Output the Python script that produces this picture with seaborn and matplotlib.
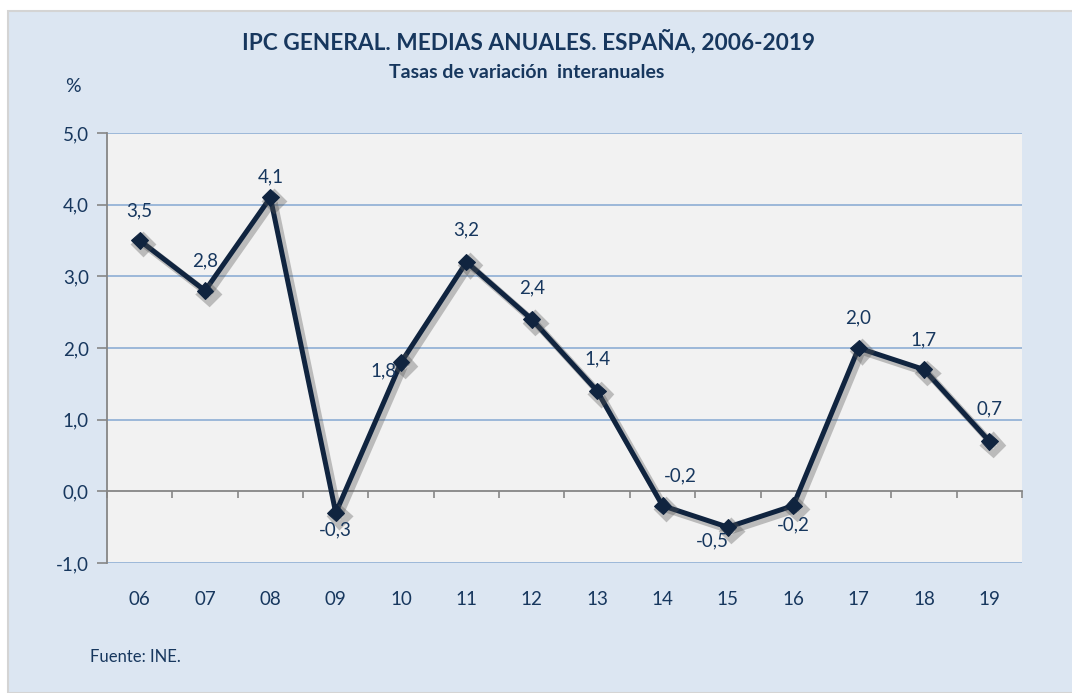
import numpy as np
import pandas as pd
import matplotlib
matplotlib.use("Agg")
import matplotlib.pyplot as plt
import matplotlib.patheffects as pe
from matplotlib.patches import Rectangle
import seaborn as sns

# ---- data ----
years = ["06", "07", "08", "09", "10", "11", "12", "13", "14", "15", "16", "17", "18", "19"]
ipc = [3.5, 2.8, 4.1, -0.3, 1.8, 3.2, 2.4, 1.4, -0.2, -0.5, -0.2, 2.0, 1.7, 0.7]
yticks = [-1.0, 0.0, 1.0, 2.0, 3.0, 4.0, 5.0]
title = "IPC GENERAL. MEDIAS ANUALES. ESPAÑA, 2006-2019"
subtitle = "Tasas de variación  interanuales"
source = "Fuente: INE."

# label offsets in pixels (dx, dy) for the data labels
label_offsets = [(0, 30), (0, 30), (0, 21), (0, -17), (-18, -9), (0, 32), (0, 31),
                 (0, 32), (18, 30), (-16, -14), (0, -19), (0, 30), (0, 30), (0, 32)]

NAVY = "#17375E"
LINE = "#10243F"
BG = "#DCE6F2"
PLOT_BG = "#F2F2F2"
GRID = "#95B3D7"
AXGRAY = "#868686"

sns.set_theme(style="white")
plt.rcParams["font.family"] = ["Lato", "DejaVu Sans"]

fig = plt.figure(figsize=(10.72, 6.93), dpi=100, facecolor="white")
W, H = 1072, 693
fig.patches.append(Rectangle((8 / W, 0), 1 - 8 / W + 0.01, (H - 11) / H,
                             transform=fig.transFigure, facecolor=BG,
                             edgecolor="#D4D4D4", linewidth=1.5, zorder=-10))

ax = fig.add_axes([107 / W, 1 - 563 / H, (1022 - 107) / W, (563 - 133) / H])
ax.set_zorder(1)
ax.set_facecolor(PLOT_BG)

df = pd.DataFrame({"pos": np.arange(len(years)), "val": ipc})
sns.lineplot(data=df, x="pos", y="val", ax=ax, color=LINE, linewidth=3.6,
             marker="D", markersize=8.5, markeredgecolor=LINE, zorder=5)
ax.lines[0].set_path_effects([
    pe.SimpleLineShadow(offset=(2.5, -2.5), shadow_color="#555555", alpha=0.35,
                        linewidth=5),
    pe.Normal()])

ax.set_xlim(-0.5, len(years) - 0.5)
ax.set_ylim(-1.0, 5.0)
ax.set_xlabel("")
ax.set_ylabel("")

# gridlines
for v in yticks:
    if v != 0:
        ax.axhline(v, color=GRID, linewidth=1.3, zorder=1)

# y axis
ax.set_yticks(yticks)
ax.set_yticklabels([f"{v:.1f}".replace(".", ",") for v in yticks], color=NAVY, fontsize=13.5)
ax.tick_params(axis="y", length=7, width=1.2, color=AXGRAY, pad=6, left=True)
for s in ["top", "right"]:
    ax.spines[s].set_visible(False)
ax.spines["left"].set_color(AXGRAY)
ax.spines["left"].set_linewidth(1.3)

# x axis at zero with boundary ticks
ax.spines["bottom"].set_position(("data", 0))
ax.spines["bottom"].set_color(AXGRAY)
ax.spines["bottom"].set_linewidth(1.3)
ax.spines["bottom"].set_zorder(2)
ax.set_xticks(np.arange(-0.5, len(years), 1.0))
ax.set_xticklabels([])
ax.tick_params(axis="x", length=5, width=1.2, color=AXGRAY, direction="out", bottom=True)

sec = ax.secondary_xaxis(0)
sec.set_xticks(np.arange(len(years)))
sec.set_xticklabels(years, color=NAVY, fontsize=13.5)
sec.tick_params(length=0, pad=20)
sec.spines["bottom"].set_visible(False)

# data labels
for i, v in enumerate(ipc):
    dx, dy = label_offsets[i]
    ax.annotate(f"{v:.1f}".replace(".", ","), (i, v), xytext=(dx * 0.72, dy * 0.72),
                textcoords="offset points", ha="center", va="center",
                color=NAVY, fontsize=13.5, zorder=6)

fig.text(528 / W, 1 - 42 / H, title, ha="center", va="center", color=NAVY,
         fontsize=16.3, fontweight="bold")
fig.text(527 / W, 1 - 72 / H, subtitle, ha="center", va="center", color=NAVY,
         fontsize=14, fontweight="bold")
fig.text(73 / W, 1 - 87 / H, "%", ha="center", va="center", color=NAVY, fontsize=14)
fig.text(90 / W, 1 - 657 / H, source, ha="left", va="center", color=NAVY, fontsize=12)

fig.savefig("out.png", dpi=100, facecolor="white")
